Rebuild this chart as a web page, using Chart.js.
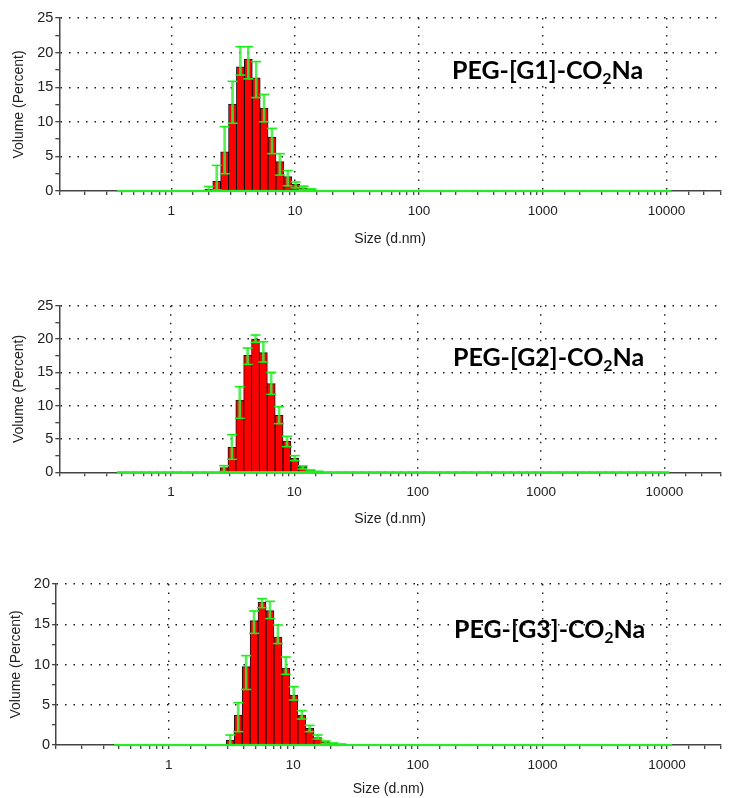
<!DOCTYPE html>
<html>
<head>
<meta charset="utf-8">
<script src="https://cdn.jsdelivr.net/npm/chart.js@4.4.1/dist/chart.umd.min.js"></script>
<style>
  body { margin: 0; background: #fff; }
  #wrap { position: relative; width: 729px; height: 798px; overflow: hidden; }
  #wrap canvas { position: absolute; left: 0; }
  .tag { position: absolute; font-family: Lato, "Open Sans", sans-serif; font-weight: 700; font-size: 25px; line-height: 25px; color: #000; white-space: nowrap; }
  .tag span { font-size: 16px; position: relative; top: 5px; }
</style>
</head>
<body>
<div id="wrap">
  <canvas id="c1" width="729" height="250" style="top:0px"></canvas>
  <canvas id="c2" width="729" height="250" style="top:280px"></canvas>
  <canvas id="c3" width="729" height="238" style="top:560px"></canvas>
  <div class="tag" style="left:452px;top:57px">PEG-[G1]-CO<span>2</span>Na</div>
  <div class="tag" style="left:453px;top:344px">PEG-[G2]-CO<span>2</span>Na</div>
  <div class="tag" style="left:454px;top:616px">PEG-[G3]-CO<span>2</span>Na</div>
</div>
<script>
// Zetasizer size classes (d.nm)
const binSizes = [0.4, 0.4632, 0.5365, 0.6213, 0.7195, 0.8332, 0.9649, 1.117, 1.294, 1.499,
  1.736, 2.010, 2.328, 2.696, 3.122, 3.615, 4.187, 4.849, 5.615, 6.503,
  7.531, 8.721, 10.10, 11.70, 13.54, 15.69, 18.17, 21.04, 24.36, 28.21,
  32.67, 37.84, 43.82, 50.75, 58.77, 68.06, 78.82, 91.28, 105.7, 122.4,
  141.8, 164.2, 190.1, 220.2, 255.0, 295.3, 342.0, 396.1, 458.7, 531.2,
  615.1, 712.4, 825.0, 955.4, 1106, 1281, 1484, 1718, 1990, 2305,
  2669, 3091, 3580, 4145, 4801, 5560, 6439, 7456, 8635, 10000];

// PEG-[G1]-CO2Na
const g1Sizes  = [2.010, 2.328, 2.696, 3.122, 3.615, 4.187, 4.849, 5.615, 6.503, 7.531, 8.721, 10.10, 11.70, 13.54];
const g1Volume = [0.25, 1.4, 5.65, 12.55, 17.95, 19.05, 16.35, 12.0, 7.8, 4.25, 2.1, 1.0, 0.45, 0.2];
const g1Low    = [0, 0.15, 2.5, 9.8, 16.75, 16.2, 13.5, 10.0, 5.4, 2.3, 0.75, 0.45, 0.2, 0.05];
const g1High   = [0.65, 3.7, 9.3, 15.85, 20.85, 20.85, 18.7, 13.95, 9.05, 5.4, 2.95, 1.3, 0.7, 0.3];

// PEG-[G2]-CO2Na
const g2Sizes  = [2.696, 3.122, 3.615, 4.187, 4.849, 5.615, 6.503, 7.531, 8.721, 10.10, 11.70, 13.54, 15.69];
const g2Volume = [0.7, 3.75, 10.85, 17.55, 20.0, 17.95, 13.3, 8.55, 4.65, 2.15, 0.9, 0.3, 0.1];
const g2Low    = [0.1, 1.95, 8.1, 16.2, 19.5, 16.55, 11.7, 7.3, 3.85, 1.75, 0.5, 0.15, 0.05];
const g2High   = [1.0, 5.65, 12.85, 18.65, 20.6, 19.6, 15.0, 9.85, 5.4, 2.5, 0.95, 0.35, 0.15];

// PEG-[G3]-CO2Na
const g3Sizes  = [3.122, 3.615, 4.187, 4.849, 5.615, 6.503, 7.531, 8.721, 10.10, 11.70, 13.54, 15.69, 18.17, 21.04, 24.36];
const g3Volume = [0.62, 3.73, 9.73, 15.45, 17.76, 16.69, 13.42, 9.57, 6.21, 3.73, 2.07, 0.91, 0.41, 0.2, 0.08];
const g3Low    = [0, 1.66, 6.9, 13.87, 17.06, 15.7, 12.6, 8.78, 5.59, 3.23, 1.66, 0.75, 0.2, 0.08, 0.03];
const g3High   = [1.24, 5.26, 11.1, 16.65, 18.18, 17.85, 14.9, 10.93, 7.25, 4.27, 2.44, 1.24, 0.5, 0.25, 0.12];

const xTitle = 'Size (d.nm)';
const yTitle = 'Volume (Percent)';

const FONT = '"Liberation Sans", Arial, sans-serif';
const TEXT = '#222';
const GREEN = '#1aef1a';
const DOTS = [1.5, 7];

function isDecade(v) {
    const l = Math.log10(v);
    return Math.abs(l - Math.round(l)) < 1e-9;
}

function drawPanel(id, p) {
    const bars = p.sizes.map((s, i) => ({ x: s, y: p.volume[i] }));
    const whiskers = p.sizes.map((s, i) => ({ x: s, y: [p.low[i], p.high[i]] }));
    const caps = [];
    p.sizes.forEach((s, i) => {
        caps.push({ x: s, y: p.low[i] });
        caps.push({ x: s, y: p.high[i] });
    });
    const baseline = binSizes.map(s => ({ x: s, y: 0 }));

    new Chart(document.getElementById(id), {
        type: 'bar',
        data: {
            datasets: [
                { type: 'scatter', data: caps, pointStyle: 'line', pointRadius: 5,
                  pointBorderWidth: 1.6, pointBorderColor: GREEN, order: 0, clip: false },
                { type: 'scatter', data: baseline, pointStyle: 'line', pointRadius: 5,
                  pointBorderWidth: 2.2, pointBorderColor: '#2ae82a', order: 1, clip: false },
                { type: 'bar', data: whiskers, backgroundColor: 'rgba(60,235,60,0.85)', borderWidth: 0,
                  grouped: false, barThickness: 2, order: 2 },
                { type: 'bar', data: bars, backgroundColor: '#ff0000', borderColor: '#111',
                  borderWidth: 1, grouped: false, barThickness: 8, order: 3 }
            ]
        },
        options: {
            responsive: false,
            animation: false,
            events: [],
            devicePixelRatio: 1,
            layout: { padding: { top: p.padTop, left: 0, right: 0, bottom: 0 } },
            plugins: { legend: { display: false }, tooltip: { enabled: false } },
            scales: {
                x: {
                    type: 'logarithmic',
                    min: p.xMin,
                    max: p.xMax,
                    offset: false,
                    afterFit: s => { s.height = p.xAxisH; },
                    border: { color: '#444', width: 1.5, dash: DOTS },
                    grid: {
                        offset: false,
                        color: c => (c.tick && isDecade(c.tick.value)) ? '#1a1a1a' : 'rgba(0,0,0,0)',
                        lineWidth: 1.4,
                        tickLength: 4,
                        tickColor: '#333',
                        tickWidth: 1.2,
                        tickBorderDash: []
                    },
                    ticks: {
                        autoSkip: false,
                        maxRotation: 0,
                        padding: 8,
                        color: TEXT,
                        font: { family: FONT, size: 13.5 },
                        callback: v => isDecade(v) ? String(Math.round(v)) : ''
                    },
                    title: { display: true, text: xTitle, color: TEXT,
                             font: { family: FONT, size: 14 }, padding: { top: 0, bottom: p.xTitlePad } }
                },
                y: {
                    min: 0,
                    max: p.yMax,
                    afterFit: s => { s.width = p.yAxisW; },
                    border: { color: '#444', width: 1.5, dash: DOTS },
                    grid: {
                        color: c => (c.tick && c.tick.value > 0 && c.tick.value % 5 === 0) ? '#1a1a1a' : 'rgba(0,0,0,0)',
                        lineWidth: 1.4,
                        tickLength: 4,
                        tickColor: '#333',
                        tickWidth: 1.2,
                        tickBorderDash: []
                    },
                    ticks: {
                        stepSize: 2.5,
                        autoSkip: false,
                        padding: 2,
                        color: TEXT,
                        font: { family: FONT, size: 14.5 },
                        callback: v => v % 5 === 0 ? String(v) : ''
                    },
                    title: { display: true, text: yTitle, color: TEXT,
                             font: { family: FONT, size: 14 }, padding: { top: p.yTitlePad, bottom: 0 } }
                }
            }
        }
    });
}

drawPanel('c1', { sizes: g1Sizes, volume: g1Volume, low: g1Low, high: g1High,
    yMax: 25, xMin: 0.1245, xMax: 27540, padTop: 18, yAxisW: 59.3, xAxisH: 59, xTitlePad: 2.6, yTitlePad: 10.6 });
drawPanel('c2', { sizes: g2Sizes, volume: g2Volume, low: g2Low, high: g2High,
    yMax: 25, xMin: 0.1245, xMax: 28770, padTop: 25.7, yAxisW: 59.3, xAxisH: 57.7, xTitlePad: 2.6, yTitlePad: 10.6 });
drawPanel('c3', { sizes: g3Sizes, volume: g3Volume, low: g3Low, high: g3High,
    yMax: 20, xMin: 0.1247, xMax: 27100, padTop: 24, yAxisW: 56, xAxisH: 53, xTitlePad: 0, yTitlePad: 7.6 });
</script>
</body>
</html>
